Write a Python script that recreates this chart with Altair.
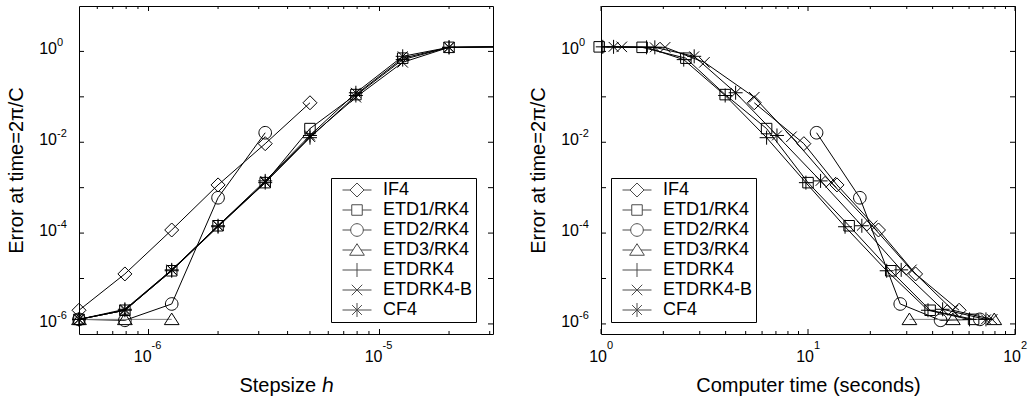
import altair as alt
import pandas as pd

FONT = "Liberation Sans"

methods = ["IF4", "ETD1/RK4", "ETD2/RK4", "ETD3/RK4", "ETDRK4", "ETDRK4-B", "CF4"]

# step sizes h (index k = 0 .. 9)
stepsize = [5.0e-7, 7.9e-7, 1.26e-6, 2.0e-6, 3.2e-6, 5.0e-6, 7.9e-6, 1.26e-5, 2.0e-5, 3.16e-5]

# error at time = 2*pi/C for each method
err_if4 = [2.0e-6, 1.26e-5, 1.17e-4, 1.15e-3, 9.3e-3, 0.074]
err_etd1 = [1.26e-6, 2.0e-6, 1.48e-5, 1.45e-4, 1.29e-3, 2.0e-2, 0.112, 0.71, 1.23, 1.26]
err_etd2 = [1.26e-6, 1.2e-6, 2.75e-6, 6.0e-4, 1.62e-2]
err_etd3 = [1.26e-6, 1.26e-6, 1.26e-6]
err_etdrk4 = [1.26e-6, 2.0e-6, 1.48e-5, 1.38e-4, 1.29e-3, 1.26e-2, 0.107, 0.66, 1.23, 1.26]
err_etdrk4b = [1.26e-6, 2.0e-6, 1.55e-5, 1.45e-4, 1.32e-3, 1.32e-2, 0.098, 0.575, 1.23, 1.26]
err_cf4 = [1.26e-6, 2.1e-6, 1.55e-5, 1.45e-4, 1.41e-3, 1.41e-2, 0.123, 0.78, 1.23, 1.26]

# computer time (seconds)
t_if4 = [53.7, 33.1, 21.9, 13.8, 9.55, 5.50]
t_etd1 = [63.1, 38.9, 25.1, 15.8, 10.0, 6.31, 3.98, 2.57, 1.58, 0.98]
t_etd2 = [67.6, 43.7, 27.9, 17.8, 11.0]
t_etd3 = [79.4, 50.1, 30.9]
t_etdrk4 = [60.3, 38.0, 24.0, 15.1, 9.77, 6.31, 3.98, 2.51, 1.66, 1.02]
t_etdrk4b = [77.6, 50.1, 31.6, 20.4, 12.9, 8.32, 5.50, 3.16, 2.04, 1.26]
t_cf4 = [72.4, 44.7, 28.2, 18.2, 11.5, 7.08, 4.47, 2.82, 1.82, 1.15]

errs = [err_if4, err_etd1, err_etd2, err_etd3, err_etdrk4, err_etdrk4b, err_cf4]
times = [t_if4, t_etd1, t_etd2, t_etd3, t_etdrk4, t_etdrk4b, t_cf4]

# tick values
y_major = [1e-6, 1e-5, 1e-4, 1e-3, 1e-2, 1e-1, 1e0]
y_label_vals = [1e-6, 1e-4, 1e-2, 1e0]
y_label_exps = ["-6", "-4", "-2", "0"]
lx_major = [1e-6, 1e-5]
lx_minor = [6e-7, 7e-7, 8e-7, 9e-7, 2e-6, 3e-6, 4e-6, 5e-6, 6e-6, 7e-6, 8e-6, 9e-6, 2e-5, 3e-5]
lx_label_exps = ["-6", "-5"]
rx_major = [1, 10, 100]
rx_minor = [2, 3, 4, 5, 6, 7, 8, 9, 20, 30, 40, 50, 60, 70, 80, 90]
rx_label_exps = ["0", "1", "2"]

rows = []
for m, e_list, t_list in zip(methods, errs, times):
    for k, (e, t) in enumerate(zip(e_list, t_list)):
        rows.append({"method": m, "k": k, "h": stepsize[k], "t": t, "err": e})
df = pd.DataFrame(rows)

W, H = 414, 328
MAJ, MIN = 5, 3

line_colors = ["black", "black", "black", "#808080", "black", "black", "black"]

marker_paths = [
    "M0,-1L1,0L0,1L-1,0Z",
    "M-0.75,-0.75L0.75,-0.75L0.75,0.75L-0.75,0.75Z",
    "M0.9,0A0.9,0.9,0,1,1,-0.9,0A0.9,0.9,0,1,1,0.9,0Z",
    "M0,-0.9L1.05,0.75L-1.05,0.75Z",
    "M-1,0L1,0M0,-1L0,1",
    "M-0.75,-0.75L0.75,0.75M-0.75,0.75L0.75,-0.75",
    "M-1,0L1,0M0,-1L0,1M-0.7,-0.7L0.7,0.7M-0.7,0.7L0.7,-0.7",
]
T = 2.07
legend_paths = [
    f"M-{T},0L-1,0M1,0L{T},0" + marker_paths[0],
    f"M-{T},0L-0.75,0M0.75,0L{T},0" + marker_paths[1],
    f"M-{T},0L-0.9,0M0.9,0L{T},0" + marker_paths[2],
    f"M-{T},0L-0.57,0M0.57,0L{T},0" + marker_paths[3],
    f"M-{T},0L{T},0M0,-1L0,1",
    f"M-{T},0L{T},0" + marker_paths[5],
    f"M-{T},0L{T},0M0,-1L0,1M-0.7,-0.7L0.7,0.7M-0.7,0.7L0.7,-0.7",
]


def panel(xfield, xdomain, xtitle, xmaj, xmin, xexps, legend_x, label_dx, point_filter):
    axis_common = dict(labels=False, ticks=False, domain=False, grid=False,
                       titleFont=FONT, titleFontSize=20, titleFontWeight="normal",
                       titleColor="black")
    x_enc = alt.X(f"{xfield}:Q", scale=alt.Scale(type="log", domain=xdomain, nice=False),
                  axis=alt.Axis(title=xtitle, titlePadding=41, **axis_common))
    y_enc = alt.Y("err:Q", scale=alt.Scale(type="log", domain=[6e-7, 10], nice=False),
                  axis=alt.Axis(title="Error at time=2π/C", titlePadding=53, **axis_common))

    base = alt.Chart(df)
    lines = base.mark_line(clip=True, strokeWidth=1).encode(
        x=x_enc, y=y_enc,
        color=alt.Color("method:N", scale=alt.Scale(domain=methods, range=line_colors), legend=None),
        detail="method:N", order="k:Q",
    )
    pts_src = base.transform_filter(point_filter) if point_filter else base
    points = pts_src.mark_point(filled=False, strokeWidth=1, color="black", size=196, opacity=1).encode(
        x=x_enc, y=y_enc,
        shape=alt.Shape("method:N", scale=alt.Scale(domain=methods, range=marker_paths), legend=None),
    )
    leg = base.transform_filter("false").mark_point(filled=False, strokeWidth=1, color="black", size=196).encode(
        x=x_enc, y=y_enc,
        shape=alt.Shape("method:N", scale=alt.Scale(domain=methods, range=legend_paths),
                        legend=alt.Legend(title=None, orient="none", legendX=legend_x, legendY=172,
                                          fillColor="white", strokeColor="black", padding=3,
                                          symbolSize=196, symbolStrokeWidth=1, symbolOffset=14,
                                          symbolStrokeColor="black",
                                          labelOffset=17, labelFont=FONT, labelFontSize=18,
                                          labelColor="black", rowPadding=2,
                                          labelExpr="datum.label + '       '")),
    )

    xmaj_df = pd.DataFrame({xfield: xmaj})
    xmin_df = pd.DataFrame({xfield: xmin})
    ymaj_df = pd.DataFrame({"err": y_major})
    tick_layers = []
    for d, ln in ((xmaj_df, MAJ), (xmin_df, MIN)):
        tick_layers.append(alt.Chart(d).mark_rule(color="black", strokeWidth=1).encode(
            x=x_enc, y=alt.value(H), y2=alt.value(H - ln)))
        tick_layers.append(alt.Chart(d).mark_rule(color="black", strokeWidth=1).encode(
            x=x_enc, y=alt.value(0), y2=alt.value(ln)))
    tick_layers.append(alt.Chart(ymaj_df).mark_rule(color="black", strokeWidth=1).encode(
        y=y_enc, x=alt.value(0), x2=alt.value(MAJ)))
    tick_layers.append(alt.Chart(ymaj_df).mark_rule(color="black", strokeWidth=1).encode(
        y=y_enc, x=alt.value(W), x2=alt.value(W - MAJ)))

    xlab_df = pd.DataFrame({xfield: xmaj, "exp": xexps})
    ylab_df = pd.DataFrame({"err": y_label_vals, "exp": y_label_exps})
    xbase = alt.Chart(xlab_df).mark_text(align="right", baseline="middle", font=FONT, fontSize=16,
                                         color="black", dx=label_dx).encode(
        x=x_enc, y=alt.value(H + 23), text=alt.value("10"))
    xexp = alt.Chart(xlab_df).mark_text(align="left", baseline="middle", font=FONT, fontSize=11,
                                        color="black", dx=label_dx).encode(
        x=x_enc, y=alt.value(H + 12), text="exp:N")
    ybase = alt.Chart(ylab_df).mark_text(align="right", baseline="middle", font=FONT, fontSize=16,
                                         color="black", dy=-2).encode(
        y=y_enc, x=alt.value(-22), text=alt.value("10"))
    yexp = alt.Chart(ylab_df).mark_text(align="left", baseline="middle", font=FONT, fontSize=11,
                                        color="black", dy=-8).encode(
        y=y_enc, x=alt.value(-22), text="exp:N")

    return alt.layer(lines, points, leg, *tick_layers, xbase, xexp, ybase, yexp).resolve_scale(
        shape="independent").properties(width=W, height=H)


left = panel("h", [5e-7, 3.1e-5], "Stepsize ℎ", lx_major, lx_minor, lx_label_exps, 252, 3,
             "datum.h <= 3.1e-5")
right = panel("t", [1, 100], "Computer time (seconds)", rx_major, rx_minor, rx_label_exps, 10, 6, None)

chart = alt.hconcat(left, right, spacing=33).resolve_scale(
    shape="independent", color="independent", x="independent"
).properties(
    padding={"left": 5, "top": 5, "right": 0, "bottom": 0}, background="white"
).configure_view(stroke="black", strokeWidth=1)

chart.save("out.html", embed_options={"renderer": "svg", "actions": False})
